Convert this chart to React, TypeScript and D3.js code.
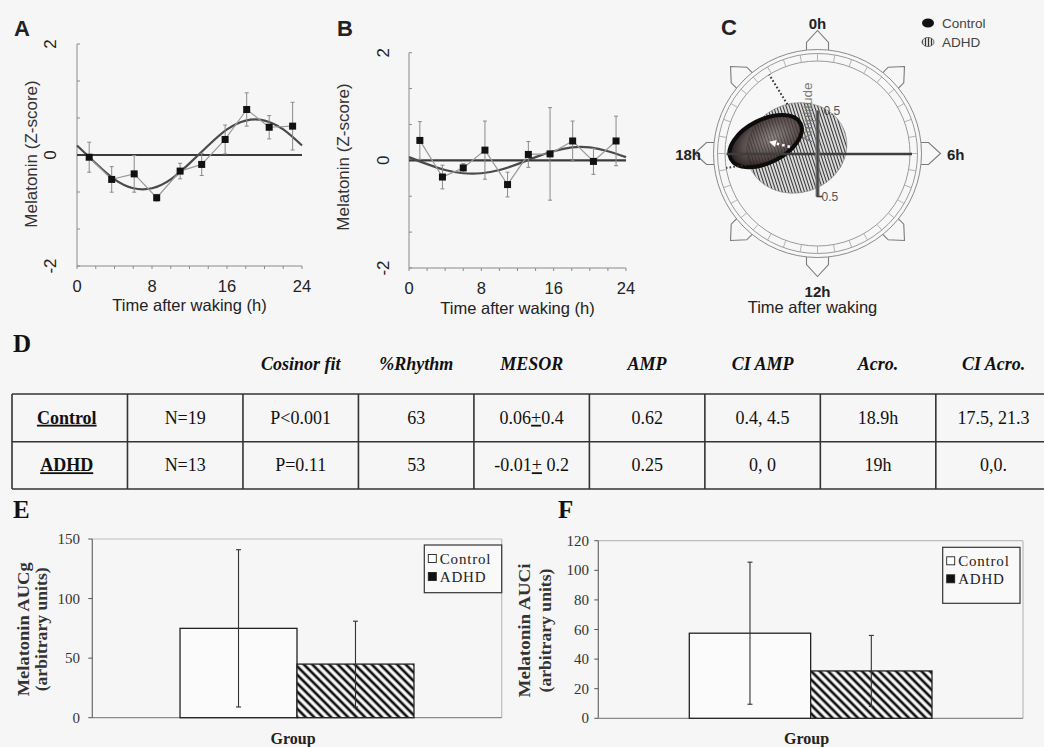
import React from "react";
import * as d3 from "d3";

// ---------- Panel A (Control) ----------
const hoursA = [1.3, 3.7, 6.1, 8.5, 11.0, 13.3, 15.8, 18.1, 20.5, 23.0];
const meanA = [-0.04, -0.44, -0.34, -0.77, -0.29, -0.17, 0.28, 0.82, 0.5, 0.52];
const errA = [0.27, 0.23, 0.33, 0.06, 0.14, 0.2, 0.26, 0.3, 0.21, 0.43];
const fitHours = [0, 2, 4, 6, 8, 10, 12, 14, 16, 18, 20, 22, 24];
const fitA = [0.17, -0.15, -0.44, -0.6, -0.6, -0.44, -0.15, 0.17, 0.46, 0.62, 0.62, 0.46, 0.17];

// ---------- Panel B (ADHD) ----------
const hoursB = [1.2, 3.7, 6.0, 8.4, 10.9, 13.2, 15.6, 18.1, 20.4, 22.9];
const meanB = [0.37, -0.31, -0.14, 0.19, -0.45, 0.11, 0.12, 0.36, -0.02, 0.36];
const errB = [0.35, 0.22, 0.08, 0.54, 0.23, 0.24, 0.86, 0.37, 0.24, 0.46];
const fitB = [0.06, -0.07, -0.18, -0.24, -0.24, -0.18, -0.07, 0.06, 0.17, 0.24, 0.24, 0.17, 0.06];

const hourTickLabels = [0, 8, 16, 24];
const zTickLabels = [-2, 0, 2];

// ---------- Panel C (cosinor plot) ----------
const cosGroups = ["Control", "ADHD"];
const cosAmp = [0.62, 0.25];
const cosAcro = [18.9, 19.0];
const ellMajor = [0.455, 0.59];
const ellMinor = [0.25, 0.52];
const ellTilt = [-27, -18];
const ciLineHours = [21.9, 17.4];
const ciLineStart = [0.67, 0.84];
const clockLabels = ["0h", "6h", "12h", "18h"];

// ---------- Table D ----------
const tableHeaders = ["", "", "Cosinor fit", "%Rhythm", "MESOR", "AMP", "CI AMP", "Acro.", "CI Acro."];
const tableGroups = ["Control", "ADHD"];
const nValues = ["N=19", "N=13"];
const fitValues = ["P<0.001", "P=0.11"];
const rhythmValues = ["63", "53"];
const mesorValues = [["0.06", "+", "0.4"], ["-0.01", "+", " 0.2"]];
const ampValues = ["0.62", "0.25"];
const ciAmpValues = ["0.4, 4.5", "0, 0"];
const acroValues = ["18.9h", "19h"];
const ciAcroValues = ["17.5, 21.3", "0,0."];

// ---------- Panels E & F ----------
const barSeries = ["Control", "ADHD"];
const aucgMean = [75, 45];
const aucgErr = [66, 36];
const aucgTicks = [0, 50, 100, 150];
const auciMean = [57.5, 32];
const auciErr = [48, 24];
const auciTicks = [0, 20, 40, 60, 80, 100, 120];

const SANS = "Arial, 'Liberation Sans', sans-serif";
const SERIF = "'Times New Roman', 'Liberation Serif', serif";

function ZPanel(props: any) {
  const { left, right, top, bottom, hours, mean, err, fit, tickBase, titleBase, yTickX, yTitleX, yTitleY } = props;
  const x = d3.scaleLinear().domain([0, 24]).range([left, right]);
  const y = d3.scaleLinear().domain([-2, 2]).range([bottom, top]);
  const fitLine = d3
    .line<number>()
    .x((_, i) => x(fitHours[i]))
    .y((d) => y(d))
    .curve(d3.curveNatural);
  const dataLine = d3
    .line<number>()
    .x((_, i) => x(hours[i]))
    .y((d) => y(d));
  const minorX = d3.range(0, 24.01, 2);
  const minorY = d3.range(-2, 2.01, 4 / 6);
  return (
    <g>
      <line x1={left} x2={left} y1={top} y2={bottom} stroke="#8a8a8a" strokeWidth={1} />
      <line x1={left} x2={right} y1={bottom} y2={bottom} stroke="#8a8a8a" strokeWidth={1} />
      {minorX.map((t) => (
        <line key={"mx" + t} x1={x(t)} x2={x(t)} y1={bottom} y2={bottom + 3} stroke="#8a8a8a" />
      ))}
      {minorY.map((v, i) => (
        <line key={"my" + i} x1={left} x2={left + 3} y1={y(v)} y2={y(v)} stroke="#8a8a8a" />
      ))}
      {hourTickLabels.map((t) => (
        <text key={"xl" + t} x={x(t)} y={tickBase} textAnchor="middle" fontFamily={SANS} fontSize={16.5} fill="#222">
          {t}
        </text>
      ))}
      {zTickLabels.map((v) => (
        <text
          key={"yl" + v}
          transform={`translate(${yTickX},${y(v)}) rotate(-90)`}
          textAnchor="middle"
          fontFamily={SANS}
          fontSize={17}
          fill="#222"
        >
          {v}
        </text>
      ))}
      <text
        transform={`translate(${yTitleX},${yTitleY}) rotate(-90)`}
        textAnchor="middle"
        fontFamily={SANS}
        fontSize={17}
        fill="#333"
      >
        Melatonin (Z-score)
      </text>
      <text x={(left + right) / 2} y={titleBase} textAnchor="middle" fontFamily={SANS} fontSize={16.5} fill="#222">
        Time after waking (h)
      </text>
      <line x1={left} x2={right} y1={y(0)} y2={y(0)} stroke="#3a3a3a" strokeWidth={2.2} />
      <path d={fitLine(fit) || ""} fill="none" stroke="#4a4a4a" strokeWidth={2.2} />
      <path d={dataLine(mean) || ""} fill="none" stroke="#9a9a9a" strokeWidth={1.2} />
      {mean.map((m: number, i: number) => (
        <g key={"e" + i} stroke="#8a8a8a" strokeWidth={1}>
          <line x1={x(hours[i])} x2={x(hours[i])} y1={y(m + err[i])} y2={y(m - err[i])} />
          <line x1={x(hours[i]) - 2} x2={x(hours[i]) + 2} y1={y(m + err[i])} y2={y(m + err[i])} />
          <line x1={x(hours[i]) - 2} x2={x(hours[i]) + 2} y1={y(m - err[i])} y2={y(m - err[i])} />
        </g>
      ))}
      {mean.map((m: number, i: number) => (
        <rect key={"p" + i} x={x(hours[i]) - 3.5} y={y(m) - 3.5} width={7} height={7} fill="#111" />
      ))}
    </g>
  );
}

function CosinorPanel() {
  const cx = 817.5;
  const cy = 153.5;
  const r = d3.scaleLinear().domain([0, 0.5]).range([0, 43]);
  const ang = (h: number) => (h / 24) * 2 * Math.PI;
  const pt = (h: number, rad: number) => [cx + rad * Math.sin(ang(h)), cy - rad * Math.cos(ang(h))];
  const house = [
    [101, -11],
    [111, -11],
    [123, 0],
    [111, 11],
    [101, 11],
  ];
  const markerHours = d3.range(0, 24, 3);
  const ringTicks = d3.range(36).map((i) => (i * 24) / 36);
  const ctrlC = pt(cosAcro[0], r(cosAmp[0]));
  const adhdC = pt(cosAcro[1], r(cosAmp[1]));
  const arrowA = pt(cosAcro[0], r(0.33));
  const arrowB = pt(cosAcro[0], r(cosAmp[0] - 0.04));
  const aDir = [Math.sin(ang(cosAcro[0])), -Math.cos(ang(cosAcro[0]))];
  const aPerp = [Math.cos(ang(cosAcro[0])), Math.sin(ang(cosAcro[0]))];
  const tip = arrowB;
  const headPts = [
    [tip[0], tip[1]],
    [tip[0] - aDir[0] * 7 + aPerp[0] * 3.5, tip[1] - aDir[1] * 7 + aPerp[1] * 3.5],
    [tip[0] - aDir[0] * 7 - aPerp[0] * 3.5, tip[1] - aDir[1] * 7 - aPerp[1] * 3.5],
  ];
  return (
    <g>
      {markerHours.map((h) => {
        const s = Math.sin(ang(h));
        const c = Math.cos(ang(h));
        const pts = house.map(([u, v]) => `${cx + u * s + v * c},${cy - u * c + v * s}`).join(" ");
        return <polygon key={"m" + h} points={pts} fill="#f7f7f7" stroke="#7a7a7a" strokeWidth={1.1} />;
      })}
      <circle cx={cx} cy={cy} r={104} fill="#f7f7f7" stroke="#8a8a8a" strokeWidth={1} />
      <circle cx={cx} cy={cy} r={100} fill="none" stroke="#9a9a9a" strokeWidth={1} />
      <circle cx={cx} cy={cy} r={92.5} fill="none" stroke="#9a9a9a" strokeWidth={1} />
      {ringTicks.map((h, i) => {
        const p1 = pt(h, 92.5);
        const p2 = pt(h, 100);
        return <line key={"rt" + i} x1={p1[0]} y1={p1[1]} x2={p2[0]} y2={p2[1]} stroke="#aaa" strokeWidth={0.9} />;
      })}
      <text x={cx + 6} y={115} fontFamily={SANS} fontSize={12} fill="#555">
        0.5
      </text>
      <text x={cx + 4} y={201} fontFamily={SANS} fontSize={12} fill="#555">
        0.5
      </text>
      <ellipse
        cx={adhdC[0]}
        cy={adhdC[1]}
        rx={r(ellMajor[1])}
        ry={r(ellMinor[1])}
        transform={`rotate(${ellTilt[1]},${adhdC[0]},${adhdC[1]})`}
        fill="url(#vhatch)"
        stroke="#888"
        strokeWidth={0.6}
      />
      <ellipse
        cx={ctrlC[0]}
        cy={ctrlC[1]}
        rx={r(ellMajor[0])}
        ry={r(ellMinor[0])}
        transform={`rotate(${ellTilt[0]},${ctrlC[0]},${ctrlC[1]})`}
        fill="url(#ctrlGrad)"
        stroke="#0d0b0b"
        strokeWidth={4}
      />
      <text
        transform={`translate(812,112.5) rotate(-90)`}
        textAnchor="middle"
        fontFamily={SANS}
        fontSize={13.5}
        fill="#777"
      >
        Amplitude
      </text>
      <line x1={cx - 91} x2={cx + 94.5} y1={cy + 0.5} y2={cy + 0.5} stroke="#3e3e3e" strokeWidth={2.5} />
      <rect x={cx - 2} y={cy - r(0.5)} width={4} height={r(1)} fill="url(#barGrad)" />
      <line x1={cx - 1} x2={cx + 5} y1={cy + r(0.5)} y2={cy + r(0.5)} stroke="#444" strokeWidth={1.6} />
      <line
        x1={arrowA[0]}
        y1={arrowA[1]}
        x2={arrowB[0] - aDir[0] * 5}
        y2={arrowB[1] - aDir[1] * 5}
        stroke="#fff"
        strokeWidth={2.6}
        strokeDasharray="2.5,3"
      />
      <polygon points={headPts.map((p) => p.join(",")).join(" ")} fill="#fff" />
      {ciLineHours.map((h, i) => {
        const p1 = pt(h, r(ciLineStart[i]));
        const p2 = pt(h, 92.5);
        return (
          <line
            key={"ci" + i}
            x1={p1[0]}
            y1={p1[1]}
            x2={p2[0]}
            y2={p2[1]}
            stroke="#333"
            strokeWidth={2}
            strokeDasharray="1.6,2.2"
          />
        );
      })}
      <text x={cx} y={29} textAnchor="middle" fontFamily={SANS} fontSize={15} fontWeight="bold" fill="#222">
        {clockLabels[0]}
      </text>
      <text x={947} y={160} textAnchor="start" fontFamily={SANS} fontSize={15} fontWeight="bold" fill="#222">
        {clockLabels[1]}
      </text>
      <text x={cx} y={296.5} textAnchor="middle" fontFamily={SANS} fontSize={15} fontWeight="bold" fill="#222">
        {clockLabels[2]}
      </text>
      <text x={701} y={160} textAnchor="end" fontFamily={SANS} fontSize={15} fontWeight="bold" fill="#222">
        {clockLabels[3]}
      </text>
      <text x={cx - 5} y={313} textAnchor="middle" fontFamily={SANS} fontSize={16.5} fill="#222">
        Time after waking
      </text>
      {/* legend */}
      <ellipse cx={928} cy={23} rx={6} ry={4.5} fill="#111" />
      <text x={942} y={28} fontFamily={SANS} fontSize={13.5} fill="#444">
        {cosGroups[0]}
      </text>
      <ellipse cx={928} cy={42} rx={6} ry={4.5} fill="url(#vhatch)" stroke="#555" strokeWidth={0.8} />
      <text x={942} y={47} fontFamily={SANS} fontSize={13.5} fill="#444">
        {cosGroups[1]}
      </text>
    </g>
  );
}

function TablePanel() {
  const cols = d3.range(9).map(String);
  const xb = d3.scaleBand().domain(cols).range([12, 1051.3]);
  const yb = d3.scaleBand().domain(tableGroups).range([394, 489]);
  const edges = d3.range(10).map((i) => 12 + i * xb.step());
  const cellVals = [nValues, fitValues, rhythmValues, null, ampValues, ciAmpValues, acroValues, ciAcroValues];
  return (
    <g fontFamily={SERIF} fill="#111">
      <text x={13} y={352} fontSize={25} fontWeight="bold">
        D
      </text>
      {tableHeaders.map((h, i) =>
        h ? (
          <text
            key={"h" + i}
            x={(xb(String(i)) as number) + xb.bandwidth() / 2}
            y={369.5}
            textAnchor="middle"
            fontSize={18}
            fontWeight="bold"
            fontStyle="italic"
          >
            {h}
          </text>
        ) : null
      )}
      {[394, 441.7, 489].map((yy, i) => (
        <line key={"hl" + i} x1={12} x2={1052} y1={yy} y2={yy} stroke="#333" strokeWidth={1.6} />
      ))}
      {edges.map((xx, i) => (
        <line key={"vl" + i} x1={xx} x2={xx} y1={394} y2={489} stroke="#333" strokeWidth={1.6} />
      ))}
      {tableGroups.map((g, ri) => {
        const yc = (yb(g) as number) + yb.bandwidth() / 2 + 6;
        return (
          <g key={"row" + g}>
            <text
              x={(xb("0") as number) + xb.bandwidth() / 2 - 3}
              y={yc}
              textAnchor="middle"
              fontSize={18}
              fontWeight="bold"
              textDecoration="underline"
            >
              {g}
            </text>
            {cellVals.map((arr, ci) => {
              const xc = (xb(String(ci + 1)) as number) + xb.bandwidth() / 2;
              if (arr === null) {
                const mv = mesorValues[ri];
                return (
                  <text key={"c" + ci} x={xc} y={yc} textAnchor="middle" fontSize={18} xmlSpace="preserve">
                    {mv[0]}
                    <tspan textDecoration="underline">{mv[1]}</tspan>
                    {mv[2]}
                  </text>
                );
              }
              return (
                <text key={"c" + ci} x={xc} y={yc} textAnchor="middle" fontSize={18}>
                  {arr[ri]}
                </text>
              );
            })}
          </g>
        );
      })}
    </g>
  );
}

function BarPanel(props: any) {
  const { left, right, top, bottom, yMax, ticks, means, errs, letter, letterX, title1, title2, t1x, t2x, tickEnd, legend } =
    props;
  const y = d3.scaleLinear().domain([0, yMax]).range([bottom, top]);
  const outer = d3.scaleBand().domain(["Group"]).range([left, right]).paddingInner(0).paddingOuter(0.375);
  const inner = d3.scaleBand().domain(barSeries).range([0, outer.bandwidth()]);
  const gx = outer("Group") as number;
  const midY = (top + bottom) / 2 + 5;
  return (
    <g fontFamily={SERIF}>
      <text x={letterX} y={518} fontSize={25} fontWeight="bold" fill="#111">
        {letter}
      </text>
      <line x1={left} x2={right} y1={top} y2={top} stroke="#bdbdbd" strokeWidth={1.2} />
      <line x1={right} x2={right} y1={top} y2={bottom} stroke="#bdbdbd" strokeWidth={1.2} />
      <line x1={left} x2={right} y1={bottom} y2={bottom} stroke="#8a8a8a" strokeWidth={1.2} />
      <line x1={left} x2={left} y1={top} y2={bottom} stroke="#6a6a6a" strokeWidth={1.2} />
      {ticks.map((t: number) => (
        <g key={"t" + t}>
          <line x1={left - 4} x2={left} y1={y(t)} y2={y(t)} stroke="#555" strokeWidth={1} />
          <text x={tickEnd} y={y(t) + 5} textAnchor="end" fontSize={15} fill="#333">
            {t}
          </text>
        </g>
      ))}
      <text
        transform={`translate(${t1x},${midY - 4}) rotate(-90)`}
        textAnchor="middle"
        fontSize={16}
        fontWeight="bold"
        fill="#333"
        textLength={134}
        lengthAdjust="spacingAndGlyphs"
      >
        {title1}
      </text>
      <text
        transform={`translate(${t2x},${midY - 4}) rotate(-90)`}
        textAnchor="middle"
        fontSize={16}
        fontWeight="bold"
        fill="#333"
        textLength={124}
        lengthAdjust="spacingAndGlyphs"
      >
        {title2}
      </text>
      {barSeries.map((s, i) => {
        const bx = gx + (inner(s) as number);
        return (
          <rect
            key={"b" + s}
            x={bx}
            y={y(means[i])}
            width={inner.bandwidth()}
            height={bottom - y(means[i])}
            fill={i === 0 ? "#fbfbfb" : "url(#dhatch)"}
            stroke="#222"
            strokeWidth={1.3}
          />
        );
      })}
      {barSeries.map((s, i) => {
        const ex = gx + (inner(s) as number) + inner.bandwidth() / 2;
        return (
          <g key={"eb" + s} stroke="#333" strokeWidth={1.1}>
            <line x1={ex} x2={ex} y1={y(means[i] + errs[i])} y2={y(means[i] - errs[i])} />
            <line x1={ex - 2.5} x2={ex + 2.5} y1={y(means[i] + errs[i])} y2={y(means[i] + errs[i])} />
            <line x1={ex - 2.5} x2={ex + 2.5} y1={y(means[i] - errs[i])} y2={y(means[i] - errs[i])} />
          </g>
        );
      })}
      <text x={(left + right) / 2 - 4} y={744} textAnchor="middle" fontSize={16} fontWeight="bold" fill="#222">
        Group
      </text>
      <rect x={legend.x} y={legend.y} width={legend.w} height={legend.h} fill="#f9f9f9" stroke="#333" strokeWidth={1.2} />
      {barSeries.map((s, i) => (
        <g key={"lg" + s}>
          <rect
            x={legend.x + 4}
            y={legend.y + 14 + i * 18 - 4.5}
            width={8}
            height={8}
            fill={i === 0 ? "#fff" : "#111"}
            stroke="#222"
            strokeWidth={0.9}
          />
          <text x={legend.x + 15.5} y={legend.y + 14 + i * 18 + 5} fontSize={15} fill="#222" letterSpacing={0.8}>
            {s}
          </text>
        </g>
      ))}
    </g>
  );
}

export default function App() {
  return (
    <svg
      width={1044}
      height={747}
      viewBox="0 0 1044 747"
      style={{ position: "absolute", left: 0, top: 0, display: "block" }}
    >
      <defs>
        <pattern id="vhatch" patternUnits="userSpaceOnUse" width={3} height={3}>
          <line x1={1.5} x2={1.5} y1={0} y2={3} stroke="#333" strokeWidth={1.3} />
        </pattern>
        <pattern id="dhatch" patternUnits="userSpaceOnUse" width={6} height={6} patternTransform="rotate(-45)">
          <rect width={6} height={6} fill="#fbfbfb" />
          <line x1={3} x2={3} y1={0} y2={6} stroke="#111" strokeWidth={2.7} />
        </pattern>
        <radialGradient id="ctrlGrad" cx="0.6" cy="0.5" r="0.6">
          <stop offset="0" stopColor="#6e6060" stopOpacity={0.7} />
          <stop offset="0.7" stopColor="#3a2c2c" stopOpacity={0.85} />
          <stop offset="1" stopColor="#1a1212" stopOpacity={0.95} />
        </radialGradient>
        <linearGradient id="barGrad" x1="0" x2="1" y1="0" y2="0">
          <stop offset="0" stopColor="#888" />
          <stop offset="0.5" stopColor="#444" />
          <stop offset="1" stopColor="#777" />
        </linearGradient>
      </defs>
      <rect width={1044} height={747} fill="#f6f6f6" />

      <text x={14} y={36} fontFamily={SANS} fontSize={22} fontWeight="bold" fill="#222">
        A
      </text>
      <text x={337} y={36} fontFamily={SANS} fontSize={22} fontWeight="bold" fill="#222">
        B
      </text>
      <text x={721} y={35} fontFamily={SANS} fontSize={22} fontWeight="bold" fill="#222">
        C
      </text>

      <ZPanel
        left={77}
        right={302}
        top={44}
        bottom={266}
        hours={hoursA}
        mean={meanA}
        err={errA}
        fit={fitA}
        tickBase={292}
        titleBase={311}
        yTickX={56}
        yTitleX={37}
        yTitleY={154}
      />
      <ZPanel
        left={409}
        right={626}
        top={52.7}
        bottom={268}
        hours={hoursB}
        mean={meanB}
        err={errB}
        fit={fitB}
        tickBase={294}
        titleBase={314}
        yTickX={389}
        yTitleX={349}
        yTitleY={157}
      />
      <CosinorPanel />
      <TablePanel />
      <BarPanel
        left={92.3}
        right={501.7}
        top={539}
        bottom={717.7}
        yMax={150}
        ticks={aucgTicks}
        means={aucgMean}
        errs={aucgErr}
        letter="E"
        letterX={13}
        title1="Melatonin AUCg"
        title2="(arbitrary units)"
        t1x={29}
        t2x={47}
        tickEnd={80}
        legend={{ x: 424.3, y: 545, w: 77.4, h: 47.7 }}
      />
      <BarPanel
        left={598.3}
        right={1023}
        top={540.7}
        bottom={718.3}
        yMax={120}
        ticks={auciTicks}
        means={auciMean}
        errs={auciErr}
        letter="F"
        letterX={558}
        title1="Melatonin AUCi"
        title2="(arbitrary units)"
        t1x={530}
        t2x={551}
        tickEnd={589}
        legend={{ x: 942.7, y: 547.3, w: 77.3, h: 56 }}
      />
    </svg>
  );
}
